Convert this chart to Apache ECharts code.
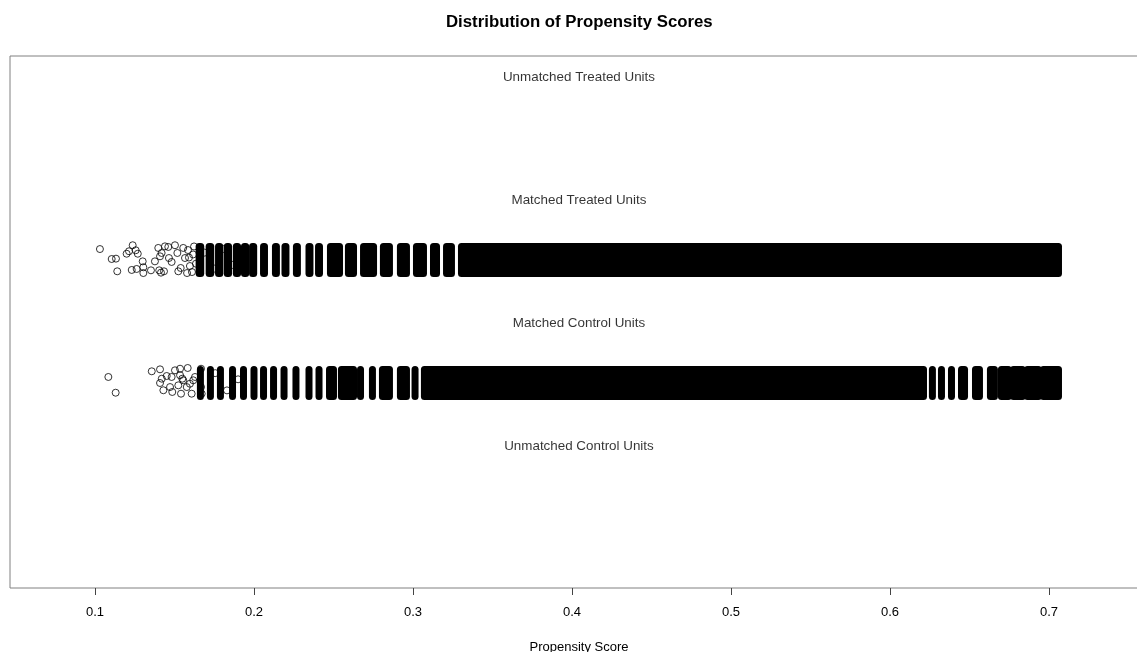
<!DOCTYPE html>
<html>
<head>
<meta charset="utf-8">
<script src="https://cdn.jsdelivr.net/npm/echarts@6/dist/echarts.min.js"></script>
<style>
  html, body { margin: 0; padding: 0; background: #fff; }
  #main { width: 1137px; height: 652px; }
</style>
</head>
<body>
<div id="main"></div>
<script>
// group rows on the y axis
var groupLabels = ["Unmatched Treated Units", "Matched Treated Units", "Matched Control Units", "Unmatched Control Units"];
var labelY = [4.5, 3.5, 2.5, 1.5];
var treatedRow = 3;
var controlRow = 2;

var xTicks = [0.1, 0.2, 0.3, 0.4, 0.5, 0.6, 0.7];

// single (jittered) points in the sparse left tail, [score, y]
var treatedSparse = [
  [0.1031, 3.089], [0.1105, 3.008], [0.1132, 3.011], [0.1140, 2.908],
  [0.1199, 3.051], [0.1214, 3.071], [0.1237, 3.120], [0.1256, 3.079],
  [0.1269, 3.051], [0.1231, 2.919], [0.1262, 2.927], [0.1300, 2.989],
  [0.1304, 2.941], [0.1304, 2.894], [0.1352, 2.916], [0.1377, 2.989],
  [0.1398, 3.098], [0.1409, 3.030], [0.1419, 3.057], [0.1440, 3.111],
  [0.1461, 3.106], [0.1404, 2.916], [0.1415, 2.897], [0.1434, 2.908],
  [0.1465, 3.016], [0.1482, 2.984], [0.1503, 3.120], [0.1518, 3.057],
  [0.1524, 2.908], [0.1539, 2.935], [0.1555, 3.098], [0.1566, 3.016],
  [0.1585, 3.081], [0.1597, 2.951], [0.1610, 2.902], [0.1579, 2.894],
  [0.1623, 3.110], [0.1591, 3.020], [0.1635, 2.970], [0.1617, 3.045],
  [0.1690, 3.060], [0.1752, 2.930], [0.1808, 3.090], [0.1866, 2.960]
];
var controlSparse = [
  [0.1084, 2.049], [0.1130, 1.921], [0.1357, 2.095], [0.1409, 2.111],
  [0.1420, 2.035], [0.1409, 2.000], [0.1451, 2.057], [0.1482, 2.049],
  [0.1503, 2.103], [0.1535, 2.116], [0.1583, 2.122], [0.1430, 1.941],
  [0.1472, 1.967], [0.1486, 1.927], [0.1524, 1.981], [0.1541, 1.913],
  [0.1555, 2.022], [0.1577, 1.967], [0.1597, 1.994], [0.1618, 2.022],
  [0.1629, 2.049], [0.1608, 1.913], [0.1667, 2.116], [0.1667, 1.967],
  [0.1671, 1.913], [0.1535, 2.063], [0.1549, 2.035], [0.1756, 2.080],
  [0.1830, 1.940], [0.1900, 2.030]
];

// runs of scores where the circles pile up into solid columns, [from, to]
var treatedRuns = [
  [0.1655, 0.1665], [0.1718, 0.1728], [0.1777, 0.1785], [0.1832, 0.1840],
  [0.1889, 0.1897], [0.1940, 0.1948], [0.1991, 0.1998], [0.2060, 0.2066],
  [0.2135, 0.2141], [0.2195, 0.2201], [0.2267, 0.2273], [0.2346, 0.2352],
  [0.2406, 0.2412], [0.2481, 0.2538], [0.2594, 0.2626], [0.2689, 0.2752],
  [0.2814, 0.2852], [0.2921, 0.2959], [0.3022, 0.3066], [0.3129, 0.3148],
  [0.3211, 0.3242], [0.3305, 0.7060]
];
var controlRuns = [
  [0.1663, 0.1663], [0.1726, 0.1726], [0.1789, 0.1789], [0.1865, 0.1865],
  [0.1934, 0.1934], [0.2000, 0.2000], [0.2060, 0.2060], [0.2123, 0.2123],
  [0.2189, 0.2189], [0.2264, 0.2264], [0.2346, 0.2346], [0.2409, 0.2409],
  [0.2475, 0.2500], [0.2550, 0.2626], [0.2670, 0.2670], [0.2745, 0.2745],
  [0.2808, 0.2852], [0.2921, 0.2959], [0.3013, 0.3013], [0.3072, 0.6211],
  [0.6267, 0.6267], [0.6324, 0.6324], [0.6387, 0.6387], [0.6450, 0.6469],
  [0.6538, 0.6563], [0.6632, 0.6657], [0.6701, 0.6745], [0.6777, 0.6833],
  [0.6865, 0.6934], [0.6965, 0.7060]
];

var jitter = 0.11; // half height of the jitter band, y units
var R = 3.5;       // circle radius in px

function runsData(runs, row) {
  return runs.map(function (r) { return [r[0], r[1], row]; });
}

function renderRun(params, api) {
  var yc = api.value(2);
  var p0 = api.coord([api.value(0), yc + jitter]);
  var p1 = api.coord([api.value(1), yc - jitter]);
  return {
    type: "rect",
    shape: {
      x: p0[0] - R,
      y: p0[1] - R,
      width: p1[0] - p0[0] + 2 * R,
      height: p1[1] - p0[1] + 2 * R,
      r: R
    },
    style: { fill: "#000" }
  };
}

var font = "Liberation Sans, Arial, sans-serif";
var myChart = echarts.init(document.getElementById("main"));
myChart.setOption({
  animation: false,
  graphic: [{
    type: "text",
    left: 446,
    top: 14,
    style: {
      text: "Distribution of Propensity Scores",
      font: "bold 16.8px " + font,
      fill: "#000"
    }
  }],
  grid: {
    left: 10,
    top: 56,
    width: 1138,
    height: 532,
    containLabel: false,
    outerBoundsMode: "none",
    show: true,
    borderColor: "#808080",
    borderWidth: 1
  },
  xAxis: {
    type: "value",
    min: 0.04654,
    max: 0.7623,
    name: "Propensity Score",
    nameLocation: "middle",
    nameGap: 53,
    nameTextStyle: { fontFamily: font, fontSize: 13, color: "#000" },
    axisLine: { show: false },
    splitLine: { show: false },
    axisTick: {
      show: true,
      customValues: xTicks,
      length: 7,
      lineStyle: { color: "#444" }
    },
    axisLabel: {
      customValues: xTicks,
      margin: 18,
      fontFamily: font,
      fontSize: 13,
      color: "#000",
      formatter: function (v) { return String(v); }
    }
  },
  yAxis: {
    type: "value",
    min: 0.3333,
    max: 4.6585,
    show: false,
    splitLine: { show: false }
  },
  series: [
    {
      type: "scatter",
      data: labelY.map(function (y, i) { return { value: [0.4044, y], name: groupLabels[i] }; }),
      symbolSize: 0,
      silent: true,
      label: {
        show: true,
        position: "inside",
        offset: [0, 2],
        formatter: "{b}",
        fontFamily: font,
        fontSize: 13.4,
        color: "#000"
      }
    },
    {
      type: "custom",
      renderItem: renderRun,
      data: runsData(treatedRuns, treatedRow),
      encode: { x: [0, 1], y: 2 }
    },
    {
      type: "custom",
      renderItem: renderRun,
      data: runsData(controlRuns, controlRow),
      encode: { x: [0, 1], y: 2 }
    },
    {
      type: "scatter",
      data: treatedSparse,
      symbol: "circle",
      symbolSize: 7,
      itemStyle: { color: "rgba(0,0,0,0)", borderColor: "#000", borderWidth: 1 }
    },
    {
      type: "scatter",
      data: controlSparse,
      symbol: "circle",
      symbolSize: 7,
      itemStyle: { color: "rgba(0,0,0,0)", borderColor: "#000", borderWidth: 1 }
    }
  ]
});
</script>
</body>
</html>
